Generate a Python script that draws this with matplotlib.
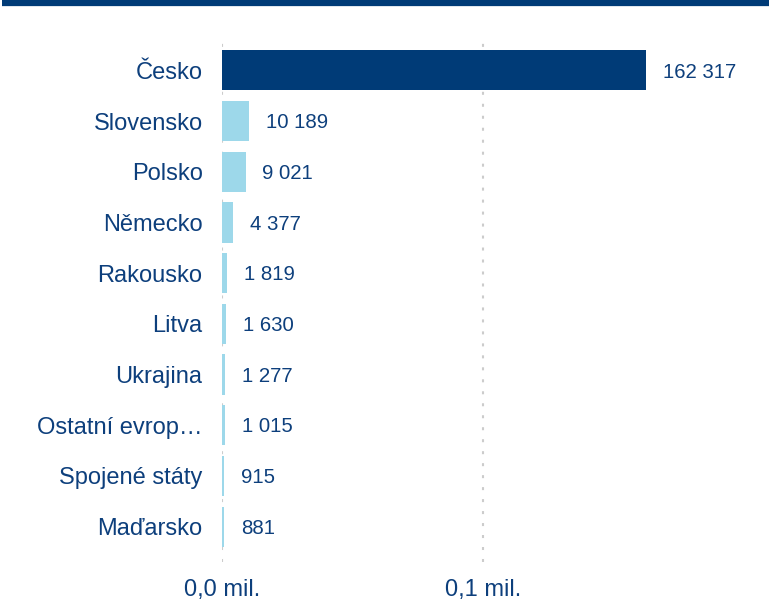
import matplotlib.pyplot as plt
from matplotlib.lines import Line2D

# Data
countries = ["Česko", "Slovensko", "Polsko", "Německo", "Rakousko", "Litva",
             "Ukrajina", "Ostatní evrop…", "Spojené státy", "Maďarsko"]
values = [162317, 10189, 9021, 4377, 1819, 1630, 1277, 1015, 915, 881]
tick_vals = [0, 100000]
tick_labels = ["0,0 mil.", "0,1 mil."]

dark = "#003B77"
light = "#9DD8EA"
text_col = "#0D3F7C"

plt.rcParams['font.family'] = ['Liberation Sans', 'DejaVu Sans']

fig = plt.figure(figsize=(7.82, 6.02), dpi=100)
ax = fig.add_axes([222 / 782, 1 - 562 / 602, (769 - 222) / 782, (562 - 35) / 602])

y = list(range(len(countries)))
colors = [dark] + [light] * (len(countries) - 1)
ax.barh(y, values, height=0.79, color=colors, zorder=2)
ax.set_ylim(len(countries) - 0.5 + 0.2, -0.5 - 0.2)
ax.set_xlim(0, 209600)

for yi, v in zip(y, values):
    label = f"{v:,}".replace(",", " ")
    ax.annotate(label, (v, yi), xytext=(12.2, -1.2), textcoords="offset points",
                ha="left", va="center", fontsize=14.7, color=text_col)

ax.set_yticks(y)
ax.set_yticklabels(countries, fontsize=17, color=text_col)
ax.set_xticks(tick_vals)
ax.set_xticklabels(tick_labels, fontsize=17, color=text_col)
ax.tick_params(length=0, pad=14)
ax.tick_params(axis="x", pad=12)
ax.xaxis.grid(True, color="#CCCCCC", linestyle=(0, (1.45, 4.3)), linewidth=1.5, zorder=0)
for s in ax.spines.values():
    s.set_visible(False)

# Top rule
fig.add_artist(Line2D([2 / 782, 769 / 782], [1 - 3 / 602, 1 - 3 / 602],
                      color=dark, linewidth=4.5, solid_capstyle="butt"))

fig.savefig("out.png", dpi=100)
